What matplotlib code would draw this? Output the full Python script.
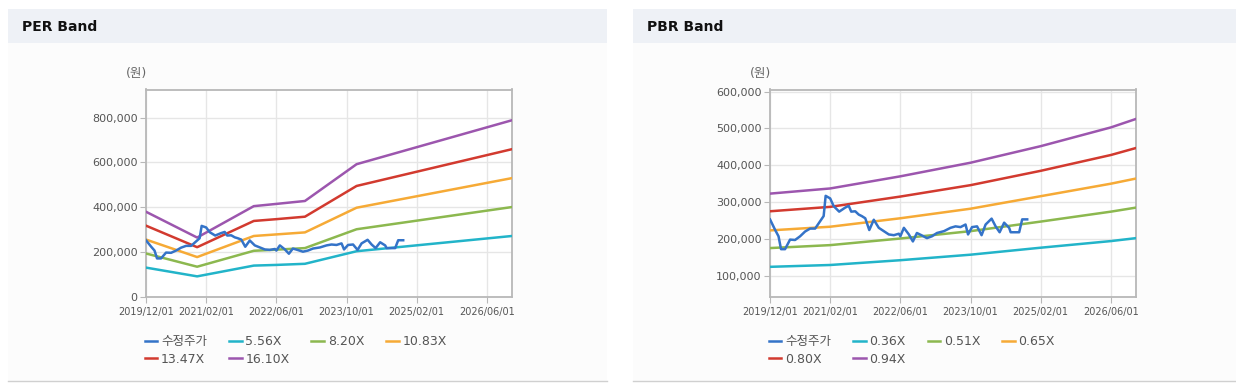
import numpy as np
import matplotlib.pyplot as plt
from matplotlib.patches import Rectangle
from matplotlib.lines import Line2D
from matplotlib.ticker import FuncFormatter

plt.rcParams['font.family'] = ['DejaVu Sans', 'Noto Sans CJK KR']

# x axis is the chart's category index (one step per data point)
tick_pos = [0, 12, 26, 40, 54, 68]
tick_labels = ['2019/12/01', '2021/02/01', '2022/06/01',
               '2023/10/01', '2025/02/01', '2026/06/01']
x_end = 73

# 수정주가 (same in both charts)
price_x = [0, 1, 1.7, 2.2, 3, 4, 5, 6, 7, 8, 9, 10, 10.7, 11.1, 12, 12.7,
           13.8, 15, 15.7, 16.2, 17, 17.7, 18.3, 19, 19.8, 20.7, 21.7, 22.7,
           23.7, 24.7, 25.7, 26, 26.7, 27.7, 28.5, 29.3, 30.2, 31.3, 32.3,
           33.3, 34.7, 36, 37, 38, 39, 39.5, 40.3, 41.3, 42.2, 43, 44.2, 45,
           45.8, 46.7, 47.7, 48, 49.7, 50.3, 51.3]
price = [253000, 225000, 207000, 172000, 172000, 198000, 197000, 207000,
         220000, 228000, 228000, 248000, 262000, 317000, 310000, 289000,
         274000, 285000, 290000, 274000, 275000, 266000, 262000, 256000,
         224000, 252000, 230000, 221000, 212000, 210000, 214000, 207000,
         230000, 212000, 193000, 216000, 210000, 202000, 207000, 216000,
         221000, 230000, 234000, 232000, 239000, 212000, 232000, 234000,
         210000, 239000, 255000, 234000, 218000, 244000, 230000, 218000,
         218000, 253000, 253000]

# PER band
per_x = [0, 10.2, 21.5, 26, 31.7, 42, 73]
per_labels = ['5.56X', '8.20X', '10.83X', '13.47X', '16.10X']
per_556 = [131000, 92000, 140000, 143000, 148000, 204000, 272000]
per_820 = [194000, 135000, 206000, 211000, 218000, 302000, 401000]
per_1083 = [256000, 178000, 272000, 279000, 288000, 398000, 530000]
per_1347 = [318000, 222000, 339000, 347000, 358000, 495000, 659000]
per_1610 = [380000, 265000, 405000, 415000, 428000, 592000, 788000]

# PBR band
pbr_x = [0, 12, 26, 40, 54, 68, 73]
pbr_labels = ['0.36X', '0.51X', '0.65X', '0.80X', '0.94X']
pbr_036 = [124000, 129000, 142000, 157000, 176000, 194000, 202000]
pbr_051 = [175000, 183000, 201000, 221000, 247000, 274000, 285000]
pbr_065 = [223000, 233000, 256000, 282000, 316000, 350000, 364000]
pbr_080 = [275000, 287000, 315000, 346000, 385000, 428000, 447000]
pbr_094 = [323000, 337000, 370000, 407000, 452000, 503000, 526000]

price_color = '#3473c8'
band_colors = ['#22b4c9', '#8cb84f', '#f6aa36', '#d23a2f', '#9c56ae']
grey_text = '#555555'

fig = plt.figure(figsize=(12.36, 3.84), dpi=100)

# panel decoration
for x0, x1, title in [(8, 607, 'PER Band'), (633, 1236, 'PBR Band')]:
    fig.patches.append(Rectangle((x0 / 1236, 1 - 381 / 384), (x1 - x0) / 1236, 338 / 384,
                                 transform=fig.transFigure, facecolor='#fcfcfc',
                                 edgecolor='none', zorder=-10))
    fig.patches.append(Rectangle((x0 / 1236, 1 - 43 / 384), (x1 - x0) / 1236, 34 / 384,
                                 transform=fig.transFigure, facecolor='#eef1f6',
                                 edgecolor='none', zorder=-10))
    fig.lines.append(Line2D([x0 / 1236, x1 / 1236], [1 - 381 / 384] * 2,
                            transform=fig.transFigure, color='#d0d0d0', lw=1,
                            zorder=-9))
    fig.text((x0 + 14) / 1236, 1 - 27 / 384, title, fontsize=10, fontweight='bold',
             va='center', ha='left', color='#111111')


def draw_chart(left, band_x, bands, labels, ylim, yticks):
    ax = fig.add_axes([left / 1236, 1 - 297 / 384, 366 / 1236, 207.5 / 384])
    ax.set_facecolor('white')
    handles = []
    for vals, col, lab in zip(bands, band_colors, labels):
        h, = ax.plot(band_x, vals, color=col, lw=1.8, label=lab, zorder=3)
        handles.append(h)
    hp, = ax.plot(price_x, price, color=price_color, lw=1.8, label='수정주가', zorder=4)
    handles = [hp] + handles

    ax.set_xlim(0, x_end)
    ax.set_ylim(*ylim)
    ax.set_xticks(tick_pos)
    ax.set_xticklabels(tick_labels)
    ax.set_yticks(yticks)
    ax.yaxis.set_major_formatter(FuncFormatter(lambda v, p: f'{v:,.0f}'))
    ax.grid(True, color='#e6e6e6', lw=1, zorder=0)
    ax.set_axisbelow(True)
    for s in ax.spines.values():
        s.set_color('#b8b8b8')
        s.set_linewidth(1.3)
    ax.tick_params(axis='x', labelsize=7, colors='#b8b8b8', labelcolor=grey_text,
                   length=4, pad=3)
    ax.tick_params(axis='y', labelsize=8, colors='#b8b8b8', labelcolor=grey_text,
                   length=4, pad=2)
    ax.text(-0.025, 1.075, '(원)', transform=ax.transAxes, ha='center', va='center',
            fontsize=9, color='#666666')

    order = [0, 4, 1, 5, 2, 3]
    ax.legend([handles[i] for i in order], [handles[i].get_label() for i in order],
              ncol=4, loc='upper left', bbox_to_anchor=(-0.003, -0.185),
              frameon=False, fontsize=9, handlelength=1.0, handletextpad=0.3,
              columnspacing=1.75, labelspacing=0.35, borderpad=0, borderaxespad=0,
              labelcolor='#555555')
    return ax


draw_chart(146, per_x, [per_556, per_820, per_1083, per_1347, per_1610],
           per_labels, (0, 925000), [0, 200000, 400000, 600000, 800000])
draw_chart(770, pbr_x, [pbr_036, pbr_051, pbr_065, pbr_080, pbr_094],
           pbr_labels, (42000, 606000),
           [100000, 200000, 300000, 400000, 500000, 600000])

fig.savefig('out.png', dpi=100)
